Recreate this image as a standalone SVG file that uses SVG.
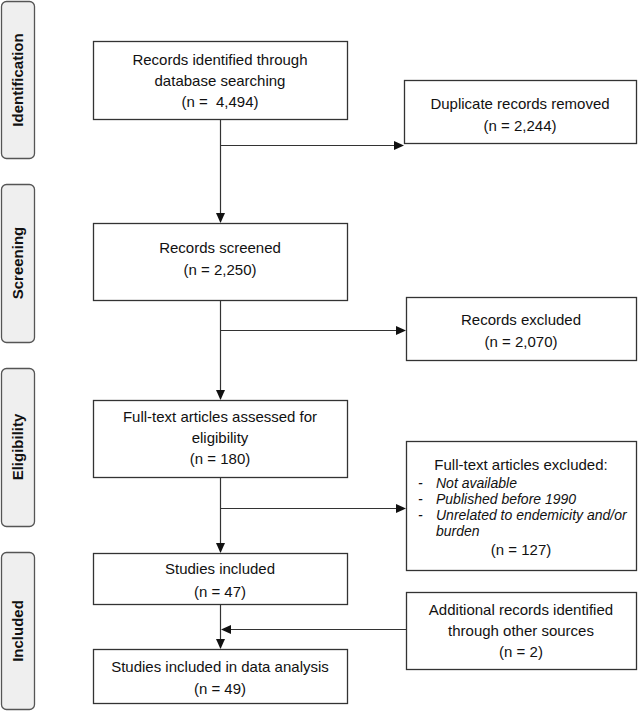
<svg xmlns="http://www.w3.org/2000/svg" width="638" height="712" viewBox="0 0 638 712">
<style>
.box{fill:#fff;stroke:#333;stroke-width:1.3}
.side{fill:#efefef;stroke:#555;stroke-width:1.3}
.t{font-family:"Liberation Sans",Arial,sans-serif;font-size:15px;fill:#111;text-anchor:middle}
.i{font-family:"Liberation Sans",Arial,sans-serif;font-size:14px;font-style:italic;fill:#111}
.s{font-family:"Liberation Sans",Arial,sans-serif;font-size:15px;font-weight:bold;fill:#111;text-anchor:middle}
.c{fill:none;stroke:#333;stroke-width:1.2}
</style>
<defs>
<marker id="a" markerWidth="10" markerHeight="10" refX="9" refY="5" orient="auto" markerUnits="userSpaceOnUse">
<path d="M0,0.5 L10,5 L0,9.5 Z" fill="#111"/>
</marker>
</defs>
<g id="side-identification"><rect class="side" x="1.5" y="1.5" width="33" height="157" rx="5"/><text class="s" transform="translate(23,80) rotate(-90)">Identification</text></g>
<g id="side-screening"><rect class="side" x="1.5" y="184.5" width="33" height="158" rx="5"/><text class="s" transform="translate(23,263) rotate(-90)">Screening</text></g>
<g id="side-eligibility"><rect class="side" x="1.5" y="368.5" width="33" height="158" rx="5"/><text class="s" transform="translate(23,447) rotate(-90)">Eligibility</text></g>
<g id="side-included"><rect class="side" x="1.5" y="552.5" width="33" height="157" rx="5"/><text class="s" transform="translate(23,631) rotate(-90)">Included</text></g>

<g id="n1"><rect class="box" x="93.5" y="41.5" width="254" height="78"/><text class="t" x="220" y="65">Records identified through</text><text class="t" x="220" y="86">database searching</text><text class="t" x="220" y="107">(n =&#160; 4,494)</text></g>
<g id="n2"><rect class="box" x="404.5" y="80.5" width="232" height="63"/><text class="t" x="520" y="109">Duplicate records removed</text><text class="t" x="520" y="131">(n = 2,244)</text></g>
<g id="n3"><rect class="box" x="93.5" y="223.5" width="254" height="77"/><text class="t" x="220" y="253">Records screened</text><text class="t" x="220" y="275">(n = 2,250)</text></g>
<g id="n4"><rect class="box" x="406.5" y="297.5" width="230" height="63"/><text class="t" x="521" y="325">Records excluded</text><text class="t" x="521" y="347">(n = 2,070)</text></g>
<g id="n5"><rect class="box" x="93.5" y="400.5" width="254" height="77"/><text class="t" x="220" y="422">Full-text articles assessed for</text><text class="t" x="220" y="443">eligibility</text><text class="t" x="220" y="464">(n = 180)</text></g>
<g id="n6"><rect class="box" x="406.5" y="441.5" width="230" height="129"/><text class="t" x="521" y="470">Full-text articles excluded:</text>
<text class="i" x="418" y="488">-</text><text class="i" x="436" y="488">Not available</text>
<text class="i" x="418" y="504">-</text><text class="i" x="436" y="504">Published before 1990</text>
<text class="i" x="418" y="520">-</text><text class="i" x="436" y="520">Unrelated to endemicity and/or</text>
<text class="i" x="436" y="536">burden</text>
<text class="t" x="521" y="555">(n = 127)</text></g>
<g id="n7"><rect class="box" x="93.5" y="553.5" width="254" height="51"/><text class="t" x="220" y="574">Studies included</text><text class="t" x="220" y="597">(n = 47)</text></g>
<g id="n8"><rect class="box" x="406.5" y="592.5" width="230" height="77"/><text class="t" x="521" y="615">Additional records identified</text><text class="t" x="521" y="636">through other sources</text><text class="t" x="521" y="657">(n = 2)</text></g>
<g id="n9"><rect class="box" x="93.5" y="649.5" width="254" height="54"/><text class="t" x="220" y="672">Studies included in data analysis</text><text class="t" x="220" y="694">(n = 49)</text></g>

<g id="connectors">
<line class="c" x1="220.5" y1="120" x2="220.5" y2="222" marker-end="url(#a)"/>
<line class="c" x1="220.5" y1="145.5" x2="403" y2="145.5" marker-end="url(#a)"/>
<line class="c" x1="220.5" y1="301" x2="220.5" y2="399" marker-end="url(#a)"/>
<line class="c" x1="220.5" y1="330.5" x2="405" y2="330.5" marker-end="url(#a)"/>
<line class="c" x1="220.5" y1="478" x2="220.5" y2="552" marker-end="url(#a)"/>
<line class="c" x1="220.5" y1="508.5" x2="405" y2="508.5" marker-end="url(#a)"/>
<line class="c" x1="220.5" y1="605" x2="220.5" y2="648" marker-end="url(#a)"/>
<line class="c" x1="406" y1="629.5" x2="222" y2="629.5" marker-end="url(#a)"/>
</g>
</svg>
